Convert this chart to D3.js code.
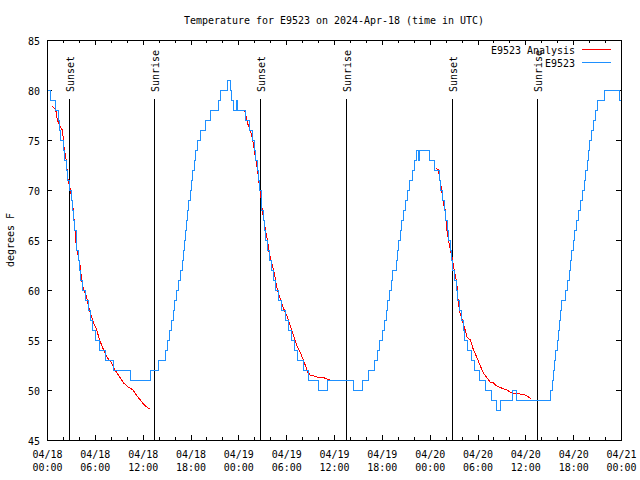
<!DOCTYPE html>
<html>
<head>
<meta charset="utf-8">
<script src="https://cdn.jsdelivr.net/npm/d3@7"></script>
<style>
  html, body { margin: 0; padding: 0; background: #fff; }
  svg { display: block; }
</style>
</head>
<body>
<script>
// ---------------- DATA ----------------
const titleText = "Temperature for E9523 on 2024-Apr-18 (time in UTC)";
const yAxisTitle = "degrees F";
const seriesNames = ["E9523 Analysis", "E9523"];
const startTime = "2024-04-18T00:00:00Z";
const endTime = "2024-04-21T00:00:00Z";
const yTickValues = [45, 50, 55, 60, 65, 70, 75, 80, 85];

// Observations (hours since 04/18 00:00 UTC, degrees F) - value holds until next change
const obsHours = [0,0.5,1.05,1.4,1.6,1.75,2.05,2.25,2.45,2.6,2.8,3.05,3.2,3.35,3.5,3.65,3.75,3.9,4.05,4.2,4.45,4.85,5.2,5.5,5.75,6.1,6.6,7.3,8.35,10.45,
  13.0,14.0,14.9,15.1,15.35,15.6,15.85,16.05,16.3,16.55,16.8,17.0,17.15,17.25,17.35,17.5,17.6,17.8,18.0,18.15,18.3,18.45,18.65,18.9,19.2,19.85,20.55,21.55,21.8,22.65,
  23.05,23.2,23.45,23.75,23.95,24.95,25.45,25.8,26.0,26.2,26.4,26.55,26.7,26.85,26.95,27.1,27.25,27.45,27.7,27.9,28.1,28.35,28.65,29.0,29.45,29.9,30.3,30.7,31.05,31.4,32.2,32.8,34.0,35.15,38.5,39.6,
  40.3,41.05,41.5,41.75,42.05,42.3,42.55,42.75,42.95,43.2,43.4,43.8,43.95,44.1,44.3,44.45,44.7,44.95,45.25,45.5,45.9,46.15,46.35,46.6,46.75,
  48.0,48.6,49.2,49.4,49.6,49.8,50.0,50.2,50.4,50.6,50.75,50.9,51.15,51.35,51.55,51.75,52.0,52.2,52.4,52.7,53.2,53.65,54.2,55.0,55.75,56.4,56.9,58.35,58.85,
  63.15,63.35,63.5,63.65,63.8,64.0,64.15,64.3,64.4,64.5,65.1,65.35,65.5,65.65,65.8,66.0,66.2,66.4,66.7,66.95,67.2,67.45,67.6,67.8,67.95,68.1,68.3,68.55,68.85,69.1,69.9,71.85,72];
const obsTemps = [80,79,78,77,76,75,74,73,72,71,70,69,68,67,66,65,64,63,62,61,60,59,58,57,56,55,54,53,52,51,
  52,53,54,55,56,57,58,59,60,61,62,63,64,65,66,67,68,69,70,71,72,73,74,75,76,77,78,79,80,81,
  80,79,78,79,78,77,76,75,74,73,72,71,70,69,68,67,66,65,64,63,62,61,60,59,58,57,56,55,54,53,52,51,50,51,50,51,
  52,53,54,55,56,57,58,59,60,61,62,63,64,65,66,67,68,69,70,71,72,73,74,73,74,
  73,72,71,70,69,68,67,66,65,64,63,62,61,60,59,58,57,56,55,54,53,52,51,50,49,48,49,50,49,
  50,51,52,53,54,55,56,57,58,59,60,61,62,63,64,65,66,67,68,69,70,71,72,73,74,75,76,77,78,79,80,79,79];

// Analysis (hours, degrees F); null separates the nightly runs
const anaHours = [0.65,1.1,1.3,1.75,1.95,2.1,2.4,2.65,2.9,3.1,3.3,3.5,3.7,3.9,4.15,4.35,4.6,4.85,5.1,5.4,5.8,6.2,6.6,7.0,7.3,7.6,8.1,8.4,8.7,9.2,9.6,10.2,10.8,11.2,11.7,12.1,12.5,12.9,
  18,
  24.7,24.9,25.15,25.6,25.8,26.0,26.2,26.4,26.6,26.8,27.0,27.2,27.4,27.65,27.85,28.1,28.5,28.9,29.3,29.75,30.2,30.6,31.0,31.4,31.8,32.3,32.7,33.0,33.9,34.8,35.5,36.85,
  42,
  48.8,49.1,49.3,49.5,49.7,49.95,50.1,50.35,50.6,50.8,51.0,51.4,51.6,51.8,52.2,52.7,53.1,53.5,53.9,54.3,54.75,55.2,55.6,56.0,56.4,57.0,57.7,58.3,59.3,60.0,60.4,60.7];
const anaTemps = [78.4,78,77,76.2,76,74.5,73,71,70.2,69.2,68,66,64.2,63.5,62.5,61,60,59.6,58.8,57.8,56.8,56.1,55,54.2,53.7,53.2,52.7,52.2,51.8,51.2,50.7,50.3,50,49.5,49,48.6,48.3,48.1,
  null,
  78,77.7,76.7,75.7,75,74,73,72,70.7,69.5,68,67,66,65,63.8,63,61.7,60,59,58,57.2,56.2,55.3,54.3,53.7,52.7,51.8,51.5,51.3,51.2,51.0,50.9,
  null,
  72.2,72,71,70,68.7,68,66.3,65,64,63.3,62.3,60.7,58.7,57.7,56.7,55.3,55,54,53.3,52.5,51.7,51.2,50.8,50.7,50.4,50.2,50,49.7,49.6,49.5,49.3,49.1];

// Sun events (hours since 04/18 00:00 UTC)
const sunsetHours = [2.7, 26.75, 50.8];
const sunriseHours = [13.48, 37.52, 61.5];

// ---------------- LAYOUT ----------------
const W = 640, H = 480;
const M = { left: 47, right: 621, top: 40, bottom: 440 };
const FONT = "'DejaVu Sans Mono', 'Liberation Mono', monospace";
const FS = 11, CW = 6;
const RED = "#ff0000", BLUE = "#1e90ff";

const base = Date.parse(startTime);
const toDate = h => new Date(base + h * 3600e3);

const svg = d3.select("body").append("svg").attr("width", W).attr("height", H);
svg.append("rect").attr("width", W).attr("height", H).attr("fill", "#fff");

const x = d3.scaleUtc().domain([new Date(startTime), new Date(endTime)]).range([M.left, M.right]);
const y = d3.scaleLinear().domain([45, 85]).range([M.bottom, M.top]);

function txt(sel, s) {
  return sel.text(s)
    .attr("font-family", FONT).attr("font-size", FS)
    .attr("textLength", s.length * CW).attr("lengthAdjust", "spacingAndGlyphs")
    .attr("fill", "#000");
}

// Title
txt(svg.append("text").attr("x", (M.left + M.right) / 2).attr("y", 24).attr("text-anchor", "middle"), titleText);

// Ticks
const majorX = d3.utcHour.every(6).range(new Date(startTime), new Date(Date.parse(endTime) + 1));
const minorX = d3.utcHour.every(2).range(new Date(startTime), new Date(Date.parse(endTime) + 1))
  .filter(d => d.getUTCHours() % 6 !== 0);
const fmtDate = d3.utcFormat("%m/%d"), fmtTime = d3.utcFormat("%H:%M");

function styleAxis(g) {
  g.select(".domain").remove();
  g.selectAll(".tick line").attr("stroke", "#000").attr("shape-rendering", "crispEdges");
}

// bottom major with labels
const gxb = svg.append("g").attr("transform", `translate(0,${M.bottom})`)
  .call(d3.axisBottom(x).tickValues(majorX).tickSize(-5).tickSizeOuter(0).tickFormat(""));
styleAxis(gxb);
gxb.selectAll(".tick").each(function(d) {
  const t = d3.select(this);
  t.selectAll("text").remove();
  txt(t.append("text").attr("x", 0).attr("y", 18).attr("text-anchor", "middle"), fmtDate(d));
  txt(t.append("text").attr("x", 0).attr("y", 31).attr("text-anchor", "middle"), fmtTime(d));
});
styleAxis(svg.append("g").attr("transform", `translate(0,${M.bottom})`)
  .call(d3.axisBottom(x).tickValues(minorX).tickSize(-3).tickSizeOuter(0).tickFormat("")));
styleAxis(svg.append("g").attr("transform", `translate(0,${M.top})`)
  .call(d3.axisTop(x).tickValues(majorX).tickSize(-5).tickSizeOuter(0).tickFormat("")));
styleAxis(svg.append("g").attr("transform", `translate(0,${M.top})`)
  .call(d3.axisTop(x).tickValues(minorX).tickSize(-3).tickSizeOuter(0).tickFormat("")));

// y axes
const gyl = svg.append("g").attr("transform", `translate(${M.left},0)`)
  .call(d3.axisLeft(y).tickValues(yTickValues).tickSize(-5).tickSizeOuter(0).tickFormat(""));
styleAxis(gyl);
gyl.selectAll(".tick").each(function(d) {
  const t = d3.select(this);
  t.selectAll("text").remove();
  txt(t.append("text").attr("x", -7).attr("y", 4).attr("text-anchor", "end"), String(d));
});
styleAxis(svg.append("g").attr("transform", `translate(${M.right},0)`)
  .call(d3.axisRight(y).tickValues(yTickValues).tickSize(-5).tickSizeOuter(0).tickFormat("")));

// y axis title
txt(svg.append("text").attr("transform", `translate(14,${(M.top + M.bottom) / 2}) rotate(-90)`)
  .attr("text-anchor", "middle"), yAxisTitle);

// Sun event lines
const sunEvents = sunsetHours.map(h => ({ h, label: "Sunset" }))
  .concat(sunriseHours.map(h => ({ h, label: "Sunrise" })));
const lineTop = y(85) + 0.15 * (y(45) - y(85)) - 1;
sunEvents.forEach(e => {
  const xp = Math.round(x(toDate(e.h))) + 0.5;
  svg.append("line").attr("x1", xp).attr("x2", xp).attr("y1", lineTop).attr("y2", M.bottom)
    .attr("stroke", "#000").attr("stroke-width", 1).attr("shape-rendering", "crispEdges");
  txt(svg.append("text").attr("transform", `translate(${xp + 4.5},92) rotate(-90)`)
    .attr("text-anchor", "start"), e.label);
});

// Series
const anaData = anaHours.map((h, i) => ({ t: toDate(h), v: anaTemps[i] }));
const obsData = obsHours.map((h, i) => ({ t: toDate(h), v: obsTemps[i] }));

const clip = svg.append("clipPath").attr("id", "plotclip").append("rect")
  .attr("x", M.left).attr("y", M.top).attr("width", M.right - M.left).attr("height", M.bottom - M.top);

svg.append("path").datum(anaData)
  .attr("clip-path", "url(#plotclip)")
  .attr("fill", "none").attr("stroke", RED).attr("stroke-width", 1)
  .attr("shape-rendering", "crispEdges")
  .attr("d", d3.line().defined(d => d.v != null).x(d => x(d.t)).y(d => y(d.v)));

svg.append("path").datum(obsData)
  .attr("clip-path", "url(#plotclip)")
  .attr("fill", "none").attr("stroke", BLUE).attr("stroke-width", 1)
  .attr("shape-rendering", "crispEdges")
  .attr("d", d3.line().curve(d3.curveStepAfter).x(d => x(d.t)).y(d => y(d.v)));

// Border
svg.append("rect").attr("x", M.left + 0.5).attr("y", M.top + 0.5)
  .attr("width", M.right - M.left).attr("height", M.bottom - M.top)
  .attr("fill", "none").attr("stroke", "#000").attr("stroke-width", 1)
  .attr("shape-rendering", "crispEdges");

// Legend
const legendColors = [RED, BLUE];
seriesNames.forEach((name, i) => {
  const yy = 49.5 + i * 13;
  txt(svg.append("text").attr("x", 575).attr("y", yy + 4).attr("text-anchor", "end"), name);
  svg.append("line").attr("x1", 582).attr("x2", 611).attr("y1", yy).attr("y2", yy)
    .attr("stroke", legendColors[i]).attr("stroke-width", 1).attr("shape-rendering", "crispEdges");
});
</script>
</body>
</html>
